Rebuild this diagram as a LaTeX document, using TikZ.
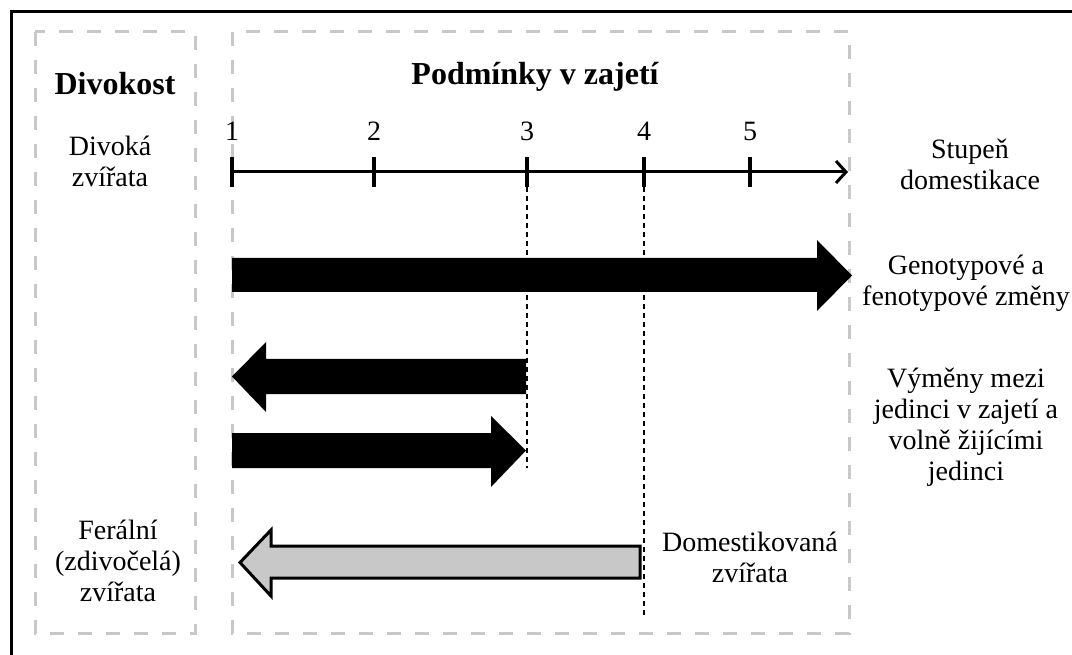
\documentclass[tikz,border=0pt]{standalone}
\usepackage{fontspec}
\setmainfont{Liberation Serif}
\usetikzlibrary{arrows.meta}
\definecolor{ramecseda}{RGB}{200,200,200}
\definecolor{sipkaseda}{RGB}{200,200,200}
\tikzset{
  ramec/.style={ramecseda, line width=3pt, dash pattern=on 14pt off 14pt},
  popis/.style={align=center, font=\fontsize{28}{31}\selectfont, inner sep=0pt},
  nadpis/.style={font=\fontsize{32}{36}\selectfont\bfseries, inner sep=0pt},
  hranice/.style={line width=2pt, dash pattern=on 5pt off 4pt},
}
\begin{document}
\begin{tikzpicture}[x=1pt,y=-1pt]
            \useasboundingbox (0,0) rectangle (1072,655);
            \draw[line width=3pt] (11,660) -- (11,12) -- (1080,12); % okraj
            \draw[ramec] (35,32) rectangle (195,633);
            \draw[ramec] (232,32) rectangle (849,633);
            \node[nadpis] (divokost) at (115,84) {Divokost};
            \node[nadpis] (podminky) at (535,77) {Podmínky v zajetí};
            \node[popis] (divoka) at (110,161) {Divoká\\zvířata};
            \node[popis] (feralni) at (118,561) {Ferální\\(zdivočelá)\\zvířata};
            \node[popis] (stupen) at (970,164) {Stupeň\\domestikace};
            \node[popis] (zmeny) at (966,283) {Genotypové a\\fenotypové změny};
            \node[popis] (vymeny) at (966,427) {Výměny mezi\\jedinci v zajetí a\\volně žijícími\\jedinci};
            \node[popis] (domest) at (750,557) {Domestikovaná\\zvířata};
            % osa
            \coordinate (zacatek) at (232,172);
            \coordinate (konec) at (848,172);
            \draw[line width=3pt,-{Straight Barb[length=10pt,width=22pt,line width=3pt]}] (zacatek) -- (konec);
            \foreach \x/\n in {232/1,374/2,527/3,644/4,750/5}{
              \draw[line width=3.5pt] (\x,157) -- (\x,187);
              \node[popis] (s\n) at (\x,131) {\n};
            }
            \draw[hranice] (527,187) -- (527,468);
            \draw[hranice] (644,187) -- (644,617);
            % sipky
            \fill (232,258) -- (817,258) -- (817,240) -- (852,275.5) -- (817,311) -- (817,292) -- (232,292) -- cycle;
            \fill (526,359) -- (266,359) -- (266,342) -- (232,376.5) -- (266,412) -- (266,394) -- (526,394) -- cycle;
            \fill (232,433) -- (491,433) -- (491,416) -- (526,450.5) -- (491,487) -- (491,468) -- (232,468) -- cycle;
            \draw[line width=3pt,fill=sipkaseda] (640,546) -- (271,546) -- (271,530) -- (240,562.5) -- (271,596) -- (271,578) -- (640,578) -- cycle;
\end{tikzpicture}
\end{document}
